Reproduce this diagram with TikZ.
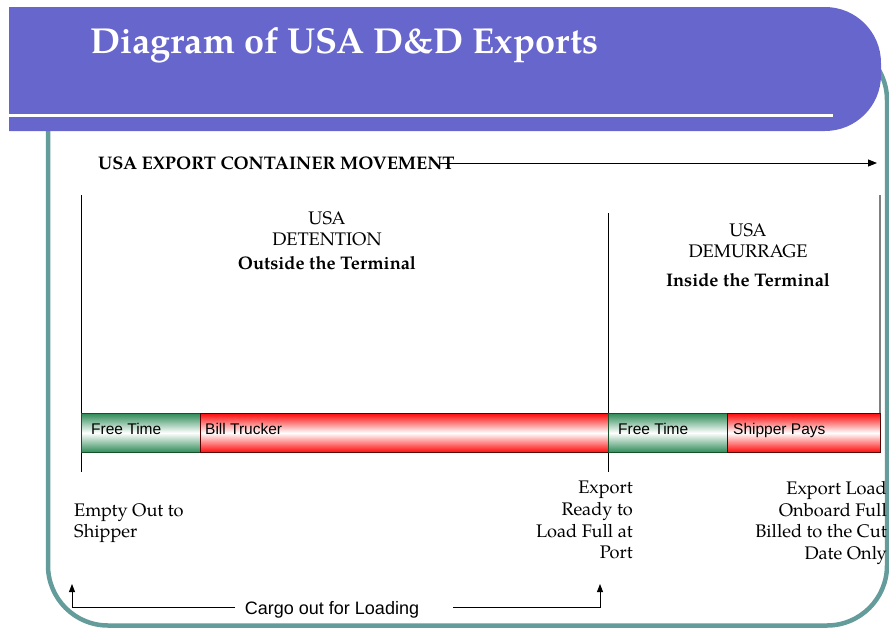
\documentclass[tikz,border=0pt]{standalone}
\usepackage{fontspec}
\IfFontExistsTF{TeX Gyre Pagella}{\setmainfont{TeX Gyre Pagella}}{\setmainfont{Liberation Serif}}
\newfontfamily\arialfont{Liberation Sans}
\usetikzlibrary{arrows.meta}
\definecolor{bannerc}{RGB}{102,102,204}
\definecolor{framec}{RGB}{100,155,155}
\definecolor{grn}{RGB}{46,139,87}
\definecolor{grnd}{RGB}{20,80,40}
\definecolor{redc}{RGB}{255,10,10}
\definecolor{redd}{RGB}{90,0,0}
\begin{document}
\begin{tikzpicture}[x=1pt,y=-1pt,
  serifbody/.style={font=\fontsize{18.2}{21.7}\selectfont, inner sep=0pt},
  barlabel/.style={font=\arialfont\fontsize{15.5}{18}\selectfont, inner sep=0pt, anchor=base west},
  grnseg/.style={draw=grnd, line width=0.8pt, top color=grn, bottom color=grn, middle color=white, minimum height=39pt, inner sep=0pt, anchor=north west},
  redseg/.style={draw=redd, line width=0.8pt, top color=redc, bottom color=redc, middle color=white, minimum height=39pt, inner sep=0pt, anchor=north west},
  tick/.style={line width=0.9pt, black},
  uptip/.style={line width=0.9pt, -{Triangle[length=8pt,width=6pt]}}
]
\useasboundingbox (0,0) rectangle (889,629);
% frame
\draw[framec, line width=4.5pt, rounded corners=60pt] (48,40) rectangle (887,625.5);
% banner
\fill[bannerc] (9,7) [rounded corners=56pt] -- (881,7) -- (881,131) [sharp corners] -- (9,131) -- cycle;
\draw[white, line width=3.5pt] (9,115.5) -- (833,115.5);
\node[anchor=base west, text=white, font=\bfseries\fontsize{36.1}{43}\selectfont, inner sep=0pt] (title) at (90,53) {Diagram of USA D\&D Exports};

% main heading and arrow
\node[anchor=base west, font=\bfseries\fontsize{18.2}{22}\selectfont, inner sep=0pt] (mv) at (98,169) {USA EXPORT CONTAINER MOVEMENT};
\coordinate (mvS) at (440,163);
\coordinate (mvE) at (877,163);
\draw[line width=0.9pt, -{Triangle[length=9pt,width=7pt]}] (mvS) -- (mvE);

% vertical ticks
\coordinate (v1t) at (81,195); \coordinate (v1b) at (81,472);
\coordinate (v2t) at (608,213); \coordinate (v2b) at (608,472);
\coordinate (v3t) at (880,195); \coordinate (v3b) at (880,452);
\draw[tick] (v1t) -- (v1b);
\draw[tick] (v2t) -- (v2b);
\draw[line width=1.2pt, black!50] (v3t) -- (v3b);

% bars
\node[grnseg, minimum width=119pt] (ft1) at (81,413) {};
\node[redseg, minimum width=408pt] (bt) at (200,413) {};
\node[grnseg, minimum width=119pt] (ft2) at (608,413) {};
\node[redseg, minimum width=153pt] (sp) at (727,413) {};
\node[barlabel] (ft1l) at (91,434.5) {Free Time};
\node[barlabel] (btl) at (205,434.5) {Bill Trucker};
\node[barlabel] (ft2l) at (618,434.5) {Free Time};
\node[barlabel] (spl) at (733,434.5) {Shipper Pays};

% headings
\node[serifbody, anchor=north, align=center] (det) at (327,211) {USA\\DETENTION\\[2pt]\textbf{Outside the Terminal}};
\node[serifbody, anchor=north, align=center] (dem) at (748,223) {USA\\DEMURRAGE\\[7pt]\textbf{Inside the Terminal}};

% bottom labels
\node[serifbody, anchor=north west, align=left] (empty) at (74,503) {Empty Out to\\Shipper};
\node[serifbody, anchor=north east, align=right] (ready) at (633,481) {Export\\Ready to\\Load Full at\\Port};
\node[serifbody, anchor=north east, align=right] (onb) at (887,481) {Export Load\\Onboard Full\\Billed to the Cut\\Date Only};

% bottom bracket
\node[font=\arialfont\fontsize{18}{22}\selectfont, inner sep=0pt, anchor=base] (cargo) at (332,614) {Cargo out for Loading};
\coordinate (a1) at (72,584); \coordinate (a2) at (72,607); \coordinate (a3) at (235,607);
\coordinate (b3) at (453,607); \coordinate (b2) at (600,607); \coordinate (b1) at (600,584);
\draw[uptip] (a3) -- (a2) -- (a1);
\draw[uptip] (b3) -- (b2) -- (b1);
\end{tikzpicture}
\end{document}
